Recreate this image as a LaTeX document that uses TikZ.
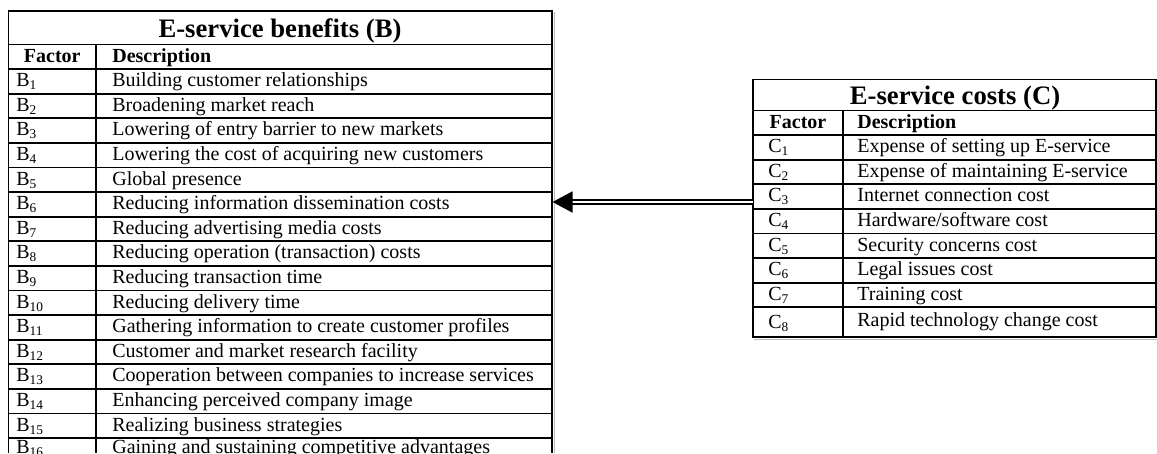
\documentclass[tikz,border=0pt]{standalone}
\usepackage{fontspec}
\setmainfont{Liberation Serif}
\usetikzlibrary{arrows.meta}

\begin{document}
\begin{tikzpicture}[x=0.6pt,y=-0.6pt,
	rule/.style={line width=1.1pt},
	shadowline/.style={gray!55,line width=1pt},
	tabtitle/.style={font=\fontsize{16}{18}\selectfont\bfseries,anchor=base,inner sep=0pt},
	colhead/.style={font=\fontsize{12}{14}\selectfont\bfseries,anchor=base,inner sep=0pt},
	cell/.style={font=\fontsize{12}{14}\selectfont,anchor=base west,inner sep=0pt},
	link/.style={double,double distance=1.6pt,line width=1pt,-{Triangle[length=12pt,width=12.6pt]}}]
	\clip (0,0) rectangle (1157,453);
	% benefits table (left)
	\draw[shadowline] (554.5,12) -- (554.5,453);
	\draw[rule] (8.5,453) -- (8.5,11) -- (552,11) -- (552,453);
	\draw[rule] (96,44.5) -- (96,453);
	\draw[rule] (8.5,44.5)--(552,44.5) (8.5,69.1)--(552,69.1) (8.5,93.7)--(552,93.7) (8.5,118.3)--(552,118.3);
	\draw[rule] (8.5,142.9)--(552,142.9) (8.5,167.5)--(552,167.5) (8.5,192.1)--(552,192.1) (8.5,216.7)--(552,216.7);
	\draw[rule] (8.5,241.3)--(552,241.3) (8.5,265.9)--(552,265.9) (8.5,290.5)--(552,290.5) (8.5,315.1)--(552,315.1);
	\draw[rule] (8.5,339.7)--(552,339.7) (8.5,364.3)--(552,364.3) (8.5,388.9)--(552,388.9) (8.5,413.5)--(552,413.5);
	\draw[rule] (8.5,438.1)--(552,438.1);
	\node[tabtitle] (btitle) at (280,37) {E-service benefits (B)};
	\node[colhead] (bfactor) at (52.3,62) {Factor};
	\node[colhead,anchor=base west] (bdesc) at (112,62) {Description};
	\node[cell] (b1) at (16,86.6) {B\textsubscript{1}};
	\node[cell] (b1d) at (112,86.6) {Building customer relationships};
	\node[cell] (b2) at (16,111.2) {B\textsubscript{2}};
	\node[cell] (b2d) at (112,111.2) {Broadening market reach};
	\node[cell] (b3) at (16,135.8) {B\textsubscript{3}};
	\node[cell] (b3d) at (112,135.8) {Lowering of entry barrier to new markets};
	\node[cell] (b4) at (16,160.4) {B\textsubscript{4}};
	\node[cell] (b4d) at (112,160.4) {Lowering the cost of acquiring new customers};
	\node[cell] (b5) at (16,185) {B\textsubscript{5}};
	\node[cell] (b5d) at (112,185) {Global presence};
	\node[cell] (b6) at (16,209.6) {B\textsubscript{6}};
	\node[cell] (b6d) at (112,209.6) {Reducing information dissemination costs};
	\node[cell] (b7) at (16,234.2) {B\textsubscript{7}};
	\node[cell] (b7d) at (112,234.2) {Reducing advertising media costs};
	\node[cell] (b8) at (16,258.8) {B\textsubscript{8}};
	\node[cell] (b8d) at (112,258.8) {Reducing operation (transaction) costs};
	\node[cell] (b9) at (16,283.4) {B\textsubscript{9}};
	\node[cell] (b9d) at (112,283.4) {Reducing transaction time};
	\node[cell] (b10) at (16,308) {B\textsubscript{10}};
	\node[cell] (b10d) at (112,308) {Reducing delivery time};
	\node[cell] (b11) at (16,332.6) {B\textsubscript{11}};
	\node[cell] (b11d) at (112,332.6) {Gathering information to create customer profiles};
	\node[cell] (b12) at (16,357.2) {B\textsubscript{12}};
	\node[cell] (b12d) at (112,357.2) {Customer and market research facility};
	\node[cell] (b13) at (16,381.8) {B\textsubscript{13}};
	\node[cell] (b13d) at (112,381.8) {Cooperation between companies to increase services};
	\node[cell] (b14) at (16,406.4) {B\textsubscript{14}};
	\node[cell] (b14d) at (112,406.4) {Enhancing perceived company image};
	\node[cell] (b15) at (16,431) {B\textsubscript{15}};
	\node[cell] (b15d) at (112,431) {Realizing business strategies};
	\node[cell] (b16) at (16,453) {B\textsubscript{16}};
	\node[cell] (b16d) at (112,453) {Gaining and sustaining competitive advantages};
	% costs table (right)
	\draw[shadowline] (754,339.5) -- (1157,339.5);
	\draw[rule] (753,79.5) rectangle (1156,337);
	\draw[rule] (843,110.5) -- (843,337);
	\draw[rule] (753,110.5)--(1156,110.5) (753,135.1)--(1156,135.1) (753,159.7)--(1156,159.7) (753,184.3)--(1156,184.3);
	\draw[rule] (753,208.9)--(1156,208.9) (753,233.5)--(1156,233.5) (753,258.1)--(1156,258.1) (753,282.7)--(1156,282.7);
	\draw[rule] (753,307.3)--(1156,307.3);
	\node[tabtitle] (ctitle) at (955,104) {E-service costs (C)};
	\node[colhead] (cfactor) at (798,128) {Factor};
	\node[colhead,anchor=base west] (cdesc) at (857,128) {Description};
	\node[cell] (c1) at (768,152.6) {C\textsubscript{1}};
	\node[cell] (c1d) at (857,152.6) {Expense of setting up E-service};
	\node[cell] (c2) at (768,177.2) {C\textsubscript{2}};
	\node[cell] (c2d) at (857,177.2) {Expense of maintaining E-service};
	\node[cell] (c3) at (768,201.8) {C\textsubscript{3}};
	\node[cell] (c3d) at (857,201.8) {Internet connection cost};
	\node[cell] (c4) at (768,226.4) {C\textsubscript{4}};
	\node[cell] (c4d) at (857,226.4) {Hardware/software cost};
	\node[cell] (c5) at (768,251) {C\textsubscript{5}};
	\node[cell] (c5d) at (857,251) {Security concerns cost};
	\node[cell] (c6) at (768,275.6) {C\textsubscript{6}};
	\node[cell] (c6d) at (857,275.6) {Legal issues cost};
	\node[cell] (c7) at (768,300.2) {C\textsubscript{7}};
	\node[cell] (c7d) at (857,300.2) {Training cost};
	\node[cell] (c8) at (768,328) {C\textsubscript{8}};
	\node[cell] (c8d) at (857,326) {Rapid technology change cost};
	% arrow from costs to benefits
	\coordinate (benefits) at (552.5,202);
	\coordinate (costs) at (753,202);
	\draw[link] (costs) -- (benefits);
\end{tikzpicture}
\end{document}
